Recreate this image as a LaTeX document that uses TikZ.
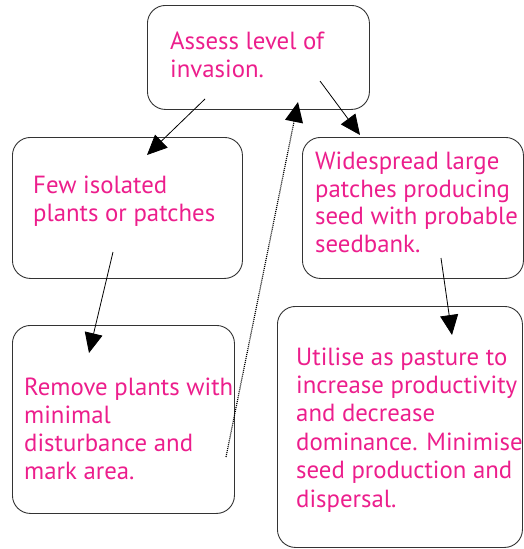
\documentclass[tikz,border=0pt]{standalone}
\usepackage{fontspec}
\setmainfont{PT Sans}
\usetikzlibrary{arrows.meta}
\definecolor{invpink}{RGB}{236,30,140}
\tikzset{
  stepbox/.style={draw=black!80, line width=0.9pt, rounded corners=18pt, anchor=north west, inner sep=0pt},
  steptext/.style={text=invpink, anchor=base west, align=left, inner sep=0pt, font=\fontsize{24.8}{28}\selectfont},
  flow/.style={-{Triangle[length=20pt,width=18pt]}, line width=0.8pt},
  backflow/.style={flow, line width=1.2pt, dash pattern=on 1pt off 1pt},
}

\begin{document}
\begin{tikzpicture}[x=1pt,y=-1pt]
  \useasboundingbox (0,0) rectangle (524,549);

  % the five boxes
  \node[stepbox, minimum width=222pt, minimum height=104pt] (assess) at (147,5) {};
  \node[stepbox, minimum width=230pt, minimum height=141pt] (few) at (12,137) {};
  \node[stepbox, minimum width=221pt, minimum height=141pt] (wide) at (302,137) {};
  \node[stepbox, minimum width=222pt, minimum height=188pt] (remove) at (12,325) {};
  \node[stepbox, minimum width=245pt, minimum height=241pt] (utilise) at (277,306) {};

  % texts (placed at the baseline of their last line)
  \node[steptext] (assess-t) at (170,77) {Assess level of\\invasion.};
  \node[steptext] (few-t) at (33,221) {Few isolated\\plants or patches};
  \node[steptext, font=\fontsize{24.8}{27.4}\selectfont] (wide-t) at (315,252) {Widespread large\\patches producing\\seed with probable\\seedbank.};
  \node[steptext] (remove-t) at (24,479) {Remove plants with\\minimal\\disturbance and\\mark area.};
  \node[steptext, font=\fontsize{24.8}{28.4}\selectfont] (utilise-t) at (296,507) {Utilise as pasture to\\increase productivity\\and decrease\\dominance. Minimise\\seed production and\\dispersal.};

  % arrow ends
  \coordinate (assess-l) at (205,99);
  \coordinate (assess-r) at (320,81);
  \coordinate (assess-in) at (298,102);
  \coordinate (few-in) at (147,155);
  \coordinate (few-out) at (113,252);
  \coordinate (wide-in) at (360,135);
  \coordinate (wide-out) at (441,258);
  \coordinate (remove-in) at (89,353);
  \coordinate (remove-out) at (226,457);
  \coordinate (utilise-in) at (452,335);

  % connectors
  \draw[flow] (assess-l) -- (few-in);
  \draw[flow] (assess-r) -- (wide-in);
  \draw[flow] (few-out) -- (remove-in);
  \draw[flow] (wide-out) -- (utilise-in);
  \draw[backflow] (remove-out) -- (assess-in);
\end{tikzpicture}
\end{document}
